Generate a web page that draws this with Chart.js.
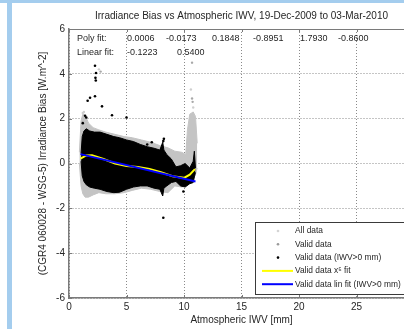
<!DOCTYPE html>
<html>
<head>
<meta charset="utf-8">
<script src="https://cdn.jsdelivr.net/npm/chart.js@4.4.0/dist/chart.umd.min.js"></script>
<style>
  html, body { margin: 0; padding: 0; background: #fff; overflow: hidden; }
  body { width: 404px; height: 329px; position: relative; }
  .edge-left { position: absolute; left: 7px; top: 0; width: 5px; height: 329px; background: #a4cdee; }
  .edge-top { position: absolute; left: 0; top: 0; width: 404px; height: 3px; background: #a4cdee; }
  #bias { position: absolute; left: 0; top: 0; }
</style>
</head>
<body>
<div class="edge-left"></div>
<div class="edge-top"></div>
<canvas id="bias" width="430" height="329"></canvas>
<script>
const TITLE = 'Irradiance Bias vs Atmospheric IWV, 19-Dec-2009 to 03-Mar-2010';
const X_LABEL = 'Atmospheric IWV [mm]';
const Y_LABEL = '(CGR4 060028 - WSG-5) Irradiance Bias [W.m^-2]';
const FONT = '"Liberation Sans", Arial, sans-serif';
const INK = '#262626';

const xTicks = [0, 5, 10, 15, 20, 25, 30];
const yTicks = [-6, -4, -2, 0, 2, 4, 6];

// fit coefficients printed in the top-left corner
const polyCoef = [0.0006, -0.0173, 0.1848, -0.8951, 1.7930, -0.8600];
const linCoef = [-0.1223, 0.5400];

// outline of the full (grey) point cloud
const grayX = [0.9, 1.05, 1.2, 1.4, 1.7, 2.1, 2.6, 3.2, 4.0, 4.8, 5.5, 6.3, 7.1, 7.9, 8.6, 9.2, 9.8, 10.15, 10.3, 10.5, 10.8, 11.0, 11.15];
const grayTop = [0.5, 1.9, 2.2, 2.15, 1.8, 1.6, 1.5, 1.4, 1.3, 1.2, 1.15, 1.05, 0.95, 0.8, 0.7, 0.55, 0.5, 0.4, 1.5, 2.2, 2.3, 2.1, 0.9];
const grayBottom = [0.0, -1.0, -1.35, -1.5, -1.5, -1.4, -1.3, -1.35, -1.35, -1.3, -1.2, -1.1, -1.15, -1.25, -1.3, -1.0, -1.05, -1.0, -0.9, -0.85, -0.7, -0.5, -0.2];

// outline of the valid (IWV>0) black point cloud
const blackX = [1.05, 1.15, 1.3, 1.5, 1.8, 2.2, 2.7, 3.3, 3.9, 4.4, 5.0, 5.6, 6.2, 6.8, 7.4, 7.9, 8.15, 8.25, 8.5, 8.9, 9.3, 9.7, 10.1, 10.5, 10.8, 10.9, 11.0];
const blackTop = [0.45, 1.2, 1.45, 1.55, 1.45, 1.4, 1.4, 1.3, 1.2, 1.15, 1.05, 0.98, 0.85, 0.75, 0.68, 0.6, 0.95, 0.6, 0.4, 0.2, -0.15, -0.1, 0.0, -0.2, 0.1, 0.55, -0.2];
const blackBottom = [0.1, -0.55, -0.8, -0.95, -1.05, -1.1, -1.15, -1.25, -1.3, -1.28, -1.15, -1.05, -1.0, -1.0, -1.1, -1.15, -1.45, -1.1, -1.0, -0.85, -0.8, -1.0, -1.05, -0.9, -0.85, -0.6, -0.4];

// isolated points away from the clouds
const allOutX = [1.2, 1.3, 2.6, 10.6, 10.8];
const allOutY = [2.25, 2.3, 4.2, 3.3, 2.5];
const validOutX = [2.75, 10.7, 10.7, 10.75];
const validOutY = [4.1, 4.5, 2.9, 2.75];
const blackOutX = [2.26, 2.35, 2.3, 2.33, 1.62, 1.83, 2.26, 2.87, 3.74, 5.0, 1.4, 1.2, 1.5, 8.2, 8.25, 9.95, 8.2, 9.9, 7.2, 6.8];
const blackOutY = [4.36, 4.04, 3.82, 3.7, 2.8, 2.93, 3.0, 2.55, 2.15, 2.05, 2.13, 1.8, 2.05, 1.0, 1.1, -1.25, -2.42, -0.84, 0.95, 0.85];

// fitted curves
const polyX = [1.0, 1.5, 2.0, 3.0, 4.0, 5.0, 6.0, 7.0, 8.0, 9.0, 10.0, 10.5, 10.95];
const polyY = [0.22, 0.36, 0.37, 0.2, 0.0, -0.11, -0.16, -0.24, -0.39, -0.57, -0.64, -0.5, -0.25];
const linX = [1.0, 11.0];
const linY = [0.418, -0.805];

const legendLabels = ['All data', 'Valid data', 'Valid data (IWV>0 mm)', 'Valid data x\u2075 fit', 'Valid data lin fit (IWV>0 mm)'];

const pts = (xs, ys) => xs.map((x, i) => ({ x, y: ys[i] }));

const datasets = [
  { label: 'lin', data: pts(linX, linY), borderColor: '#0000ff', borderWidth: 2, pointRadius: 0, order: 0 },
  { label: 'poly', data: pts(polyX, polyY), borderColor: '#ffff00', borderWidth: 2, pointRadius: 0, order: 1 },
  { label: 'blackOut', data: pts(blackOutX, blackOutY), showLine: false, pointRadius: 1.3, pointBorderWidth: 0, pointBackgroundColor: '#000', order: 2 },
  { label: 'blackTop', data: pts(blackX, blackTop), borderColor: '#000', borderWidth: 1, pointRadius: 0, order: 3 },
  { label: 'blackBottom', data: pts(blackX, blackBottom), borderColor: '#000', borderWidth: 1, pointRadius: 0, backgroundColor: '#000', fill: 3, order: 4 },
  { label: 'validOut', data: pts(validOutX, validOutY), showLine: false, pointRadius: 1.2, pointBorderWidth: 0, pointBackgroundColor: '#a8a8a8', order: 5 },
  { label: 'allOut', data: pts(allOutX, allOutY), showLine: false, pointRadius: 1.2, pointBorderWidth: 0, pointBackgroundColor: '#cfcfcf', order: 6 },
  { label: 'grayTop', data: pts(grayX, grayTop), borderColor: '#c4c4c4', borderWidth: 1, pointRadius: 0, order: 7 },
  { label: 'grayBottom', data: pts(grayX, grayBottom), borderColor: '#c4c4c4', borderWidth: 1, pointRadius: 0, backgroundColor: '#c4c4c4', fill: 7, order: 8 },
];

const fmt = (v) => v.toFixed(4);

// title, coefficient text, box edge, inward ticks and the legend box
const decorations = {
  id: 'decorations',
  afterDraw(chart) {
    const { ctx, chartArea: a, scales } = chart;
    ctx.save();

    ctx.strokeStyle = '#7a7a7a';
    ctx.lineWidth = 1;
    ctx.beginPath();
    ctx.moveTo(a.left, a.top + 0.5);
    ctx.lineTo(a.right, a.top + 0.5);
    ctx.stroke();

    ctx.beginPath();
    xTicks.forEach((t) => {
      const px = Math.round(scales.x.getPixelForValue(t)) + 0.5;
      ctx.moveTo(px, a.bottom); ctx.lineTo(px, a.bottom - 3);
      ctx.moveTo(px, a.top); ctx.lineTo(px, a.top + 3);
    });
    yTicks.forEach((t) => {
      const py = Math.round(scales.y.getPixelForValue(t)) + 0.5;
      ctx.moveTo(a.left, py); ctx.lineTo(a.left + 3, py);
    });
    ctx.stroke();

    ctx.fillStyle = INK;
    ctx.textBaseline = 'middle';
    ctx.textAlign = 'center';
    ctx.font = `10px ${FONT}`;
    ctx.fillText(TITLE, (a.left + a.right) / 2, 16);

    ctx.textAlign = 'left';
    ctx.font = `9px ${FONT}`;
    const polyCols = [58, 97, 143, 184, 231, 269];
    ctx.fillText('Poly fit:', a.left + 8, a.top + 10);
    polyCoef.forEach((c, i) => ctx.fillText(fmt(c), a.left + polyCols[i], a.top + 10));
    const linCols = [58, 108];
    ctx.fillText('Linear fit:', a.left + 8, a.top + 24);
    linCoef.forEach((c, i) => ctx.fillText(fmt(c), a.left + linCols[i], a.top + 24));

    // legend
    const bx = a.left + 186;
    const by = a.bottom - 76;
    const bw = a.right - 5 - bx;
    const bh = 72;
    ctx.fillStyle = '#fff';
    ctx.fillRect(bx, by, bw, bh);
    ctx.strokeStyle = '#3a3a3a';
    ctx.strokeRect(bx + 0.5, by + 0.5, bw, bh);

    const swatches = [
      { dot: '#d4d4d4' },
      { dot: '#9a9a9a' },
      { dot: '#000' },
      { line: '#ffff00' },
      { line: '#0000ff' },
    ];
    ctx.font = `8.4px ${FONT}`;
    legendLabels.forEach((label, i) => {
      const y = by + 9 + i * 13.3;
      const s = swatches[i];
      if (s.dot) {
        ctx.fillStyle = s.dot;
        ctx.beginPath();
        ctx.arc(bx + 23, y, 1.3, 0, Math.PI * 2);
        ctx.fill();
      } else {
        ctx.strokeStyle = s.line;
        ctx.lineWidth = 2;
        ctx.beginPath();
        ctx.moveTo(bx + 7, y);
        ctx.lineTo(bx + 38, y);
        ctx.stroke();
      }
      ctx.fillStyle = INK;
      ctx.fillText(label, bx + 40, y);
    });

    ctx.restore();
  },
};

new Chart(document.getElementById('bias'), {
  type: 'line',
  data: { datasets },
  plugins: [decorations],
  options: {
    responsive: false,
    animation: false,
    devicePixelRatio: 1,
    layout: { padding: { top: 29, right: 16, bottom: 0, left: 0 } },
    plugins: {
      legend: { display: false },
      tooltip: { enabled: false },
      filler: { propagate: false },
    },
    scales: {
      x: {
        type: 'linear',
        min: 0,
        max: 30,
        afterBuildTicks: (s) => { s.ticks = xTicks.map((v) => ({ value: v })); },
        ticks: { color: INK, font: { family: FONT, size: 10 }, padding: 3, maxRotation: 0 },
        grid: { color: '#8a8a8a', lineWidth: 1, drawTicks: false },
        border: { color: '#7a7a7a', width: 1.5, dash: [1, 2] },
        title: { display: true, text: X_LABEL, color: INK, font: { family: FONT, size: 10 }, padding: { top: 0, bottom: 3 } },
        afterFit: (s) => { s.height = 31; },
      },
      y: {
        min: -6,
        max: 6,
        afterBuildTicks: (s) => { s.ticks = yTicks.map((v) => ({ value: v })); },
        ticks: { color: INK, font: { family: FONT, size: 10 }, padding: 4 },
        grid: { color: '#8a8a8a', lineWidth: 1, drawTicks: false },
        border: { color: '#7a7a7a', width: 1.5, dash: [1, 2] },
        title: { display: true, text: Y_LABEL, color: INK, font: { family: FONT, size: 10 }, padding: { top: 37, bottom: 0 } },
        afterFit: (s) => { s.width = 69; },
      },
    },
  },
});
</script>
</body>
</html>
